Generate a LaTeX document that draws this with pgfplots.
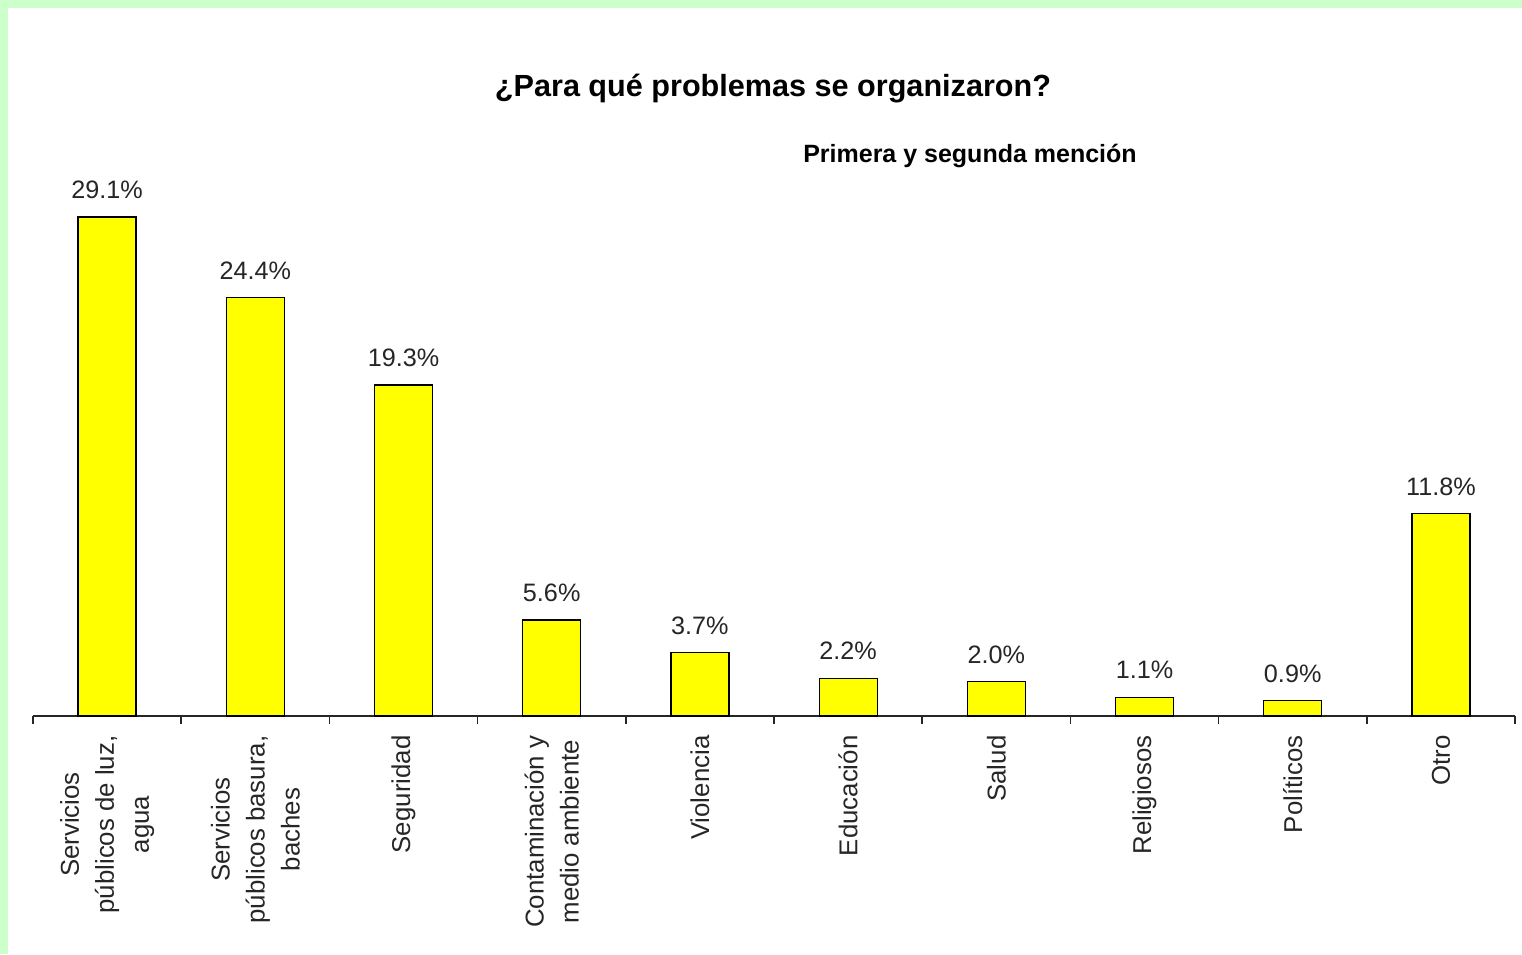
\documentclass[border=0pt]{standalone}
\usepackage{pgfplots}
\pgfplotsset{compat=1.18}
\usepackage{fontspec}
\setmainfont{Liberation Sans}
\definecolor{bordergreen}{HTML}{CCFFCC}
\definecolor{baryellow}{HTML}{FFFF00}
\begin{document}
\begin{tikzpicture}[x=1pt,y=1pt]
\fill[bordergreen] (0,0) rectangle (761,477);
\fill[white] (4,0) rectangle (761,473);
\node[font=\bfseries\fontsize{15.3}{18}\selectfont] at (386.5,432.5) {¿Para qué problemas se organizaron?};
\node[font=\bfseries\fontsize{12.5}{14}\selectfont] at (485,399) {Primera y segunda mención};
\begin{axis}[
  at={(16.5pt,119pt)}, anchor=south west,
  scale only axis, width=741pt, height=257.25pt,
  xmin=-0.5, xmax=9.5, ymin=0, ymax=30,
  hide y axis,
  axis x line*=bottom,
  x axis line style={-, line width=0.8pt, black!85},
  xtick={0,...,9},
  major x tick style={draw=none},
  minor xtick={-0.5,0.5,...,9.5},
  minor tick length=4pt,
  tick align=outside,
  minor x tick style={line width=0.8pt, black!85},
  xticklabels={{Servicios\\públicos de luz,\\agua},{Servicios\\públicos basura,\\baches},Seguridad,{Contaminación y\\medio ambiente},Violencia,Educación,Salud,Religiosos,Políticos,Otro},
  x tick label style={rotate=90, anchor=east, align=center, font=\fontsize{12.9}{17.5}\selectfont, text=black!85},
  xticklabel shift=2pt,
  clip=false,
  point meta=explicit symbolic,
  nodes near coords,
  nodes near coords style={font=\fontsize{12.6}{14}\selectfont, text=black!85, yshift=5.5pt},
]
\addplot[ybar, bar width=29pt, fill=baryellow, draw=black, line width=0.6pt] table[x=x, y=y, meta=lab] {
x y lab
0 29.1 29.1\%
1 24.4 24.4\%
2 19.3 19.3\%
3 5.6 5.6\%
4 3.7 3.7\%
5 2.2 2.2\%
6 2.0 2.0\%
7 1.1 1.1\%
8 0.9 0.9\%
9 11.8 11.8\%
};
\end{axis}
\end{tikzpicture}
\end{document}
